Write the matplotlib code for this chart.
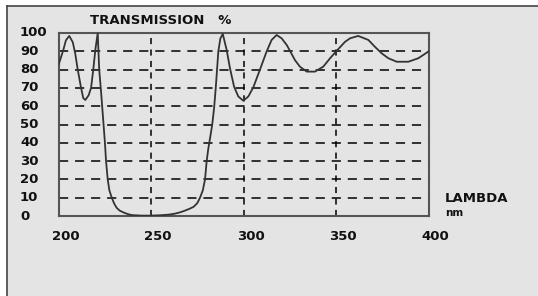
import matplotlib
matplotlib.use('Agg')
import matplotlib.pyplot as plt
from matplotlib.lines import Line2D
from matplotlib.patches import Rectangle

# values
wavelength = [200, 202.6, 204, 205.8, 207.7, 209, 210.4, 212.2, 213.4, 214.5,
              216.3, 217.6, 218.8, 219.9, 221.2, 222, 223, 224.2, 225.1, 225.7,
              226.6, 227.5, 228.8, 230, 231.4, 233, 235, 237, 239.5, 245,
              250, 255, 260, 263, 265.7, 268, 270.5, 273, 275, 276.5,
              278, 279.2, 280.1, 281, 282, 283.1, 284.1, 285, 285.7, 286.4,
              287.5, 288.8, 290.9, 292.7, 294.9, 297.2, 299.9, 302.6, 305.3, 308.9,
              312.5, 315.2, 317.9, 320.6, 323.4, 325.1, 327.8, 330.5, 334.2, 338.6,
              343.1, 346.8, 350.4, 354.9, 357.6, 362, 367.5, 371, 374.7, 378.3,
              382.8, 389.1, 394.5, 400]
transmission = [82.5, 90.7, 96, 98.4, 95, 89, 80, 70, 64.4, 63.4,
                66, 70, 80, 90.7, 100, 80, 68, 52, 40, 30,
                20, 14, 10, 7, 4.5, 3, 2, 1.2, 0.5, 0.2,
                0.2, 0.4, 0.8, 1.3, 2, 2.8, 3.8, 5, 7, 10,
                14, 20, 30, 37, 43, 50, 59, 70, 80, 90,
                97, 99.5, 90.7, 80.7, 70.7, 65.3, 63, 65.3, 70.3, 80,
                89.9, 96.2, 98.9, 97.1, 93.4, 90.3, 85.2, 81.6, 78.9, 78.9,
                81.6, 86.2, 90.3, 95.2, 97.1, 98.4, 96.2, 92.5, 88.9, 86.2,
                84.3, 84.3, 86.2, 89.9]

x_ticks = [200, 250, 300, 350, 400]
y_ticks = [0, 10, 20, 30, 40, 50, 60, 70, 80, 90, 100]

W, H = 538, 296
bg = '#e4e4e4'
fig = plt.figure(figsize=(W / 100, H / 100), dpi=100)
fig.patch.set_facecolor('white')
fig.patches.append(Rectangle((7 / W, -0.1), 2, 1.1 - 6 / H, transform=fig.transFigure,
                             facecolor=bg, edgecolor='none', zorder=-10))
fig.add_artist(Line2D([7 / W, 7 / W], [0, 1 - 6 / H], color='#444444', lw=1.2))
fig.add_artist(Line2D([7 / W, 1], [1 - 6 / H, 1 - 6 / H], color='#444444', lw=1.2))

ax = fig.add_axes([58.5 / W, 80 / H, 370 / W, 183 / H])
ax.set_facecolor(bg)
ax.set_xlim(200, 400)
ax.set_ylim(0, 100)

for g in [10, 20, 30, 40, 50, 60, 70, 80, 90]:
    ax.axhline(g, color='black', lw=1.1, dashes=(6, 4.5), zorder=1)
for g in [250, 300, 350]:
    ax.axvline(g, color='black', lw=1.1, dashes=(4, 3.5), zorder=1)

ax.plot(wavelength, transmission, color='#333333', lw=1.3, zorder=3,
        solid_joinstyle='round')

for s in ax.spines.values():
    s.set_color('#555555')
    s.set_linewidth(1.5)
ax.set_xticks([])
ax.set_yticks([])

font = dict(fontsize=9.5, fontweight='bold', color='#111111', family='DejaVu Sans')
for v in y_ticks:
    fig.text(20 / W, 1 - (216 - v * 1.83) / H, str(v), ha='left', va='center', **font)
for v in x_ticks:
    fig.text((58.5 + (v - 200) * 1.85 + 7) / W, 1 - 237 / H, str(v),
             ha='center', va='center', **font)

fig.text(90 / W, 1 - 21 / H, 'TRANSMISSION   %', ha='left', va='center', **font)
fig.text(445 / W, 1 - 199 / H, 'LAMBDA', ha='left', va='center', **font)
fig.text(445 / W, 1 - 213 / H, 'nm', ha='left', va='center', fontsize=7.5,
         fontweight='bold', color='#111111')

fig.savefig('out.png', dpi=100, facecolor=fig.get_facecolor())
